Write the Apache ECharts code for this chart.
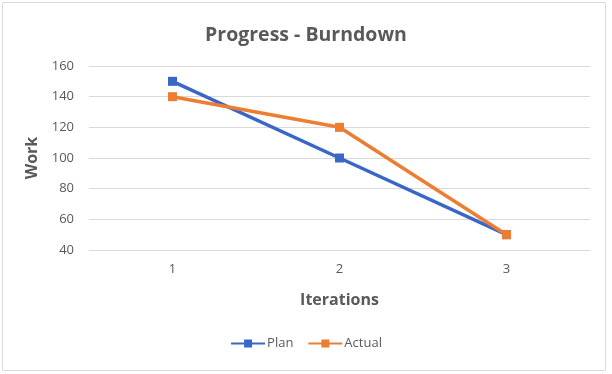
<!DOCTYPE html>
<html><head><meta charset="utf-8">
<script src="https://cdn.jsdelivr.net/npm/echarts@6/dist/echarts.min.js"></script>
<style>html,body{margin:0;padding:0;background:#fff}#c{width:612px;height:374px}</style>
</head><body><div id="c"></div>
<script>
const categories = ['1', '2', '3'];
const planValues = [150, 100, 50];
const actualValues = [140, 120, 50];
const yTicks = [40, 60, 80, 100, 120, 140, 160];

const chart = echarts.init(document.getElementById('c'), null, {renderer: 'canvas'});
const font = '"Open Sans", "Noto Sans", sans-serif';
chart.setOption({
  animation: false,
  backgroundColor: '#fff',
  graphic: [{type: 'rect', shape: {x: 2.5, y: 2.5, width: 603, height: 368}, style: {fill: 'none', stroke: '#d9d9d9', lineWidth: 1}, silent: true}],
  title: {text: 'Progress - Burndown', left: 'center', top: 20,
    textStyle: {fontFamily: font, fontSize: 19.5, fontWeight: 'bold', color: '#595959'}},
  grid: {left: 89, right: 22, top: 66, bottom: 124},
  legend: {bottom: 19, left: 'center', itemWidth: 34, itemHeight: 10, itemGap: 14,
    textStyle: {fontFamily: font, fontSize: 13, color: '#595959', padding: [0, 0, 0, -3]},
    data: ['Plan', 'Actual']},
  xAxis: {type: 'category', data: categories, boundaryGap: true,
    name: 'Iterations', nameLocation: 'middle', nameGap: 42,
    nameTextStyle: {fontFamily: font, fontSize: 16, fontWeight: 'bold', color: '#595959'},
    axisLine: {show: false}, axisTick: {show: false},
    axisLabel: {fontFamily: font, fontSize: 13, color: '#595959', margin: 13}},
  yAxis: {type: 'value', min: yTicks[0], max: yTicks[yTicks.length - 1], interval: 20,
    name: 'Work', nameLocation: 'middle', nameGap: 46, nameRotate: 90,
    nameTextStyle: {fontFamily: font, fontSize: 16, fontWeight: 'bold', color: '#595959'},
    axisLine: {show: false}, axisTick: {show: false},
    axisLabel: {fontFamily: font, fontSize: 13, color: '#595959', margin: 15},
    splitLine: {lineStyle: {color: '#d9d9d9', width: 1}}},
  series: [
    {name: 'Plan', type: 'line', data: planValues, symbol: 'rect', symbolSize: 9,
     itemStyle: {color: '#3a66c8'}, lineStyle: {width: 3.5, color: '#3a66c8'}},
    {name: 'Actual', type: 'line', data: actualValues, symbol: 'rect', symbolSize: 9,
     itemStyle: {color: '#ed7d31'}, lineStyle: {width: 3.5, color: '#ed7d31'}}
  ]
});
</script></body></html>
